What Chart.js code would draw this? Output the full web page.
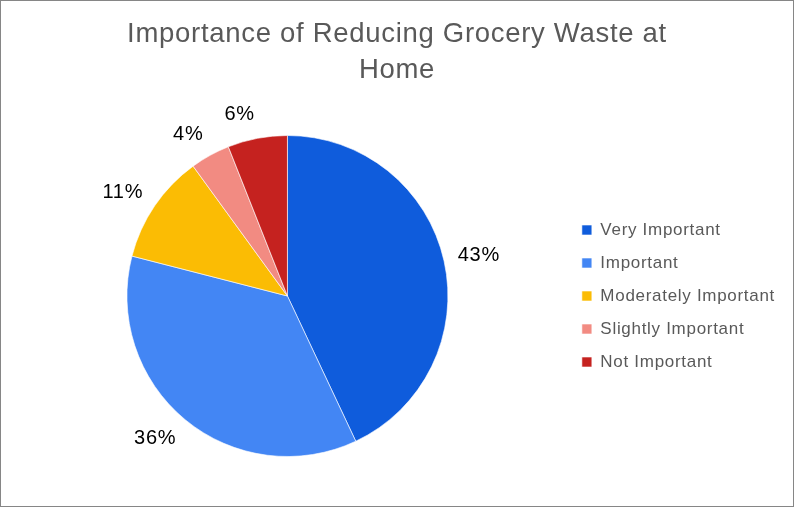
<!DOCTYPE html>
<html lang="en">
<head>
  <meta charset="UTF-8">
  <title>Importance of Reducing Grocery Waste at Home</title>
  <script src="https://cdn.jsdelivr.net/npm/chart.js"></script>
  <style>
    html, body { margin: 0; padding: 0; background: #fff; }
    .chart-box {
      position: relative;
      width: 794px;
      height: 507px;
      box-sizing: border-box;
      border: 1px solid #868686;
    }
  </style>
</head>
<body>
  <div class="chart-box">
    <canvas id="wastePie"></canvas>
  </div>

  <script>
    // chart data
    var titleLines = ['Importance of Reducing Grocery Waste at', 'Home'];
    var categories = ['Very Important', 'Important', 'Moderately Important', 'Slightly Important', 'Not Important'];
    var shares = [43, 36, 11, 4, 6];
    var sliceColors = ['#0F5CDC', '#4386F4', '#FBBC04', '#F28B82', '#C5221F'];

    var FONT = '"Liberation Sans", Arial, sans-serif';
    var SPACING = '0.7px';

    // office-style text is a little wider, so add some letter spacing
    var spacing = {
      id: 'spacing',
      beforeUpdate: function(chart) { chart.ctx.letterSpacing = SPACING; },
      beforeLayout: function(chart) { chart.ctx.letterSpacing = SPACING; },
      beforeDraw: function(chart) { chart.ctx.letterSpacing = SPACING; }
    };

    // left-aligned drawing, centred by hand (centre align drifts with letter spacing)
    function centeredText(ctx, text, cx, y) {
      var w = ctx.measureText(text).width;
      ctx.fillText(text, cx - w / 2, y);
    }

    // title drawn by hand so it sits centred over the whole box
    var titleDraw = {
      id: 'titleDraw',
      afterDraw: function(chart) {
        var ctx = chart.ctx;
        ctx.save();
        ctx.letterSpacing = SPACING;
        ctx.font = '27.5px ' + FONT;
        ctx.fillStyle = '#595959';
        ctx.textAlign = 'left';
        ctx.textBaseline = 'alphabetic';
        titleLines.forEach(function(line, i) {
          centeredText(ctx, line, chart.width / 2, 41 + i * 36);
        });
        ctx.restore();
      }
    };

    // draws the percent labels just outside each slice
    var outsideLabels = {
      id: 'outsideLabels',
      afterDatasetsDraw: function(chart) {
        var ctx = chart.ctx;
        var meta = chart.getDatasetMeta(0);
        var total = shares.reduce(function(a, b) { return a + b; }, 0);
        ctx.save();
        ctx.letterSpacing = SPACING;
        ctx.font = '20px ' + FONT;
        ctx.fillStyle = '#000';
        ctx.textAlign = 'left';
        ctx.textBaseline = 'middle';
        meta.data.forEach(function(arc, i) {
          var mid = (arc.startAngle + arc.endAngle) / 2;
          var text = Math.round(shares[i] / total * 100) + '%';
          var hw = ctx.measureText(text).width / 2;
          var hh = 10;
          var r = arc.outerRadius + 14;
          var x = arc.x + Math.cos(mid) * r + Math.sign(Math.cos(mid)) * hw;
          var y = arc.y + Math.sin(mid) * (r + hh);
          centeredText(ctx, text, x, y);
        });
        ctx.restore();
      }
    };

    var ctx = document.getElementById('wastePie').getContext('2d');
    var wastePie = new Chart(ctx, {
      type: 'pie',
      data: {
        labels: categories,
        datasets: [{
          data: shares,
          backgroundColor: sliceColors,
          borderColor: 'rgba(255,255,255,0.6)',
          borderWidth: 1
        }]
      },
      options: {
        responsive: true,
        maintainAspectRatio: false,
        animation: false,
        layout: { padding: { top: 134, bottom: 49, left: 8, right: 8 } },
        plugins: {
          title: { display: false },
          legend: {
            position: 'right',
            fullSize: false,
            labels: {
              color: '#595959',
              font: { family: FONT, size: 17 },
              boxWidth: 10,
              boxHeight: 10,
              padding: 16
            }
          },
          tooltip: { enabled: false }
        }
      },
      plugins: [spacing, outsideLabels, titleDraw]
    });
  </script>
</body>
</html>
